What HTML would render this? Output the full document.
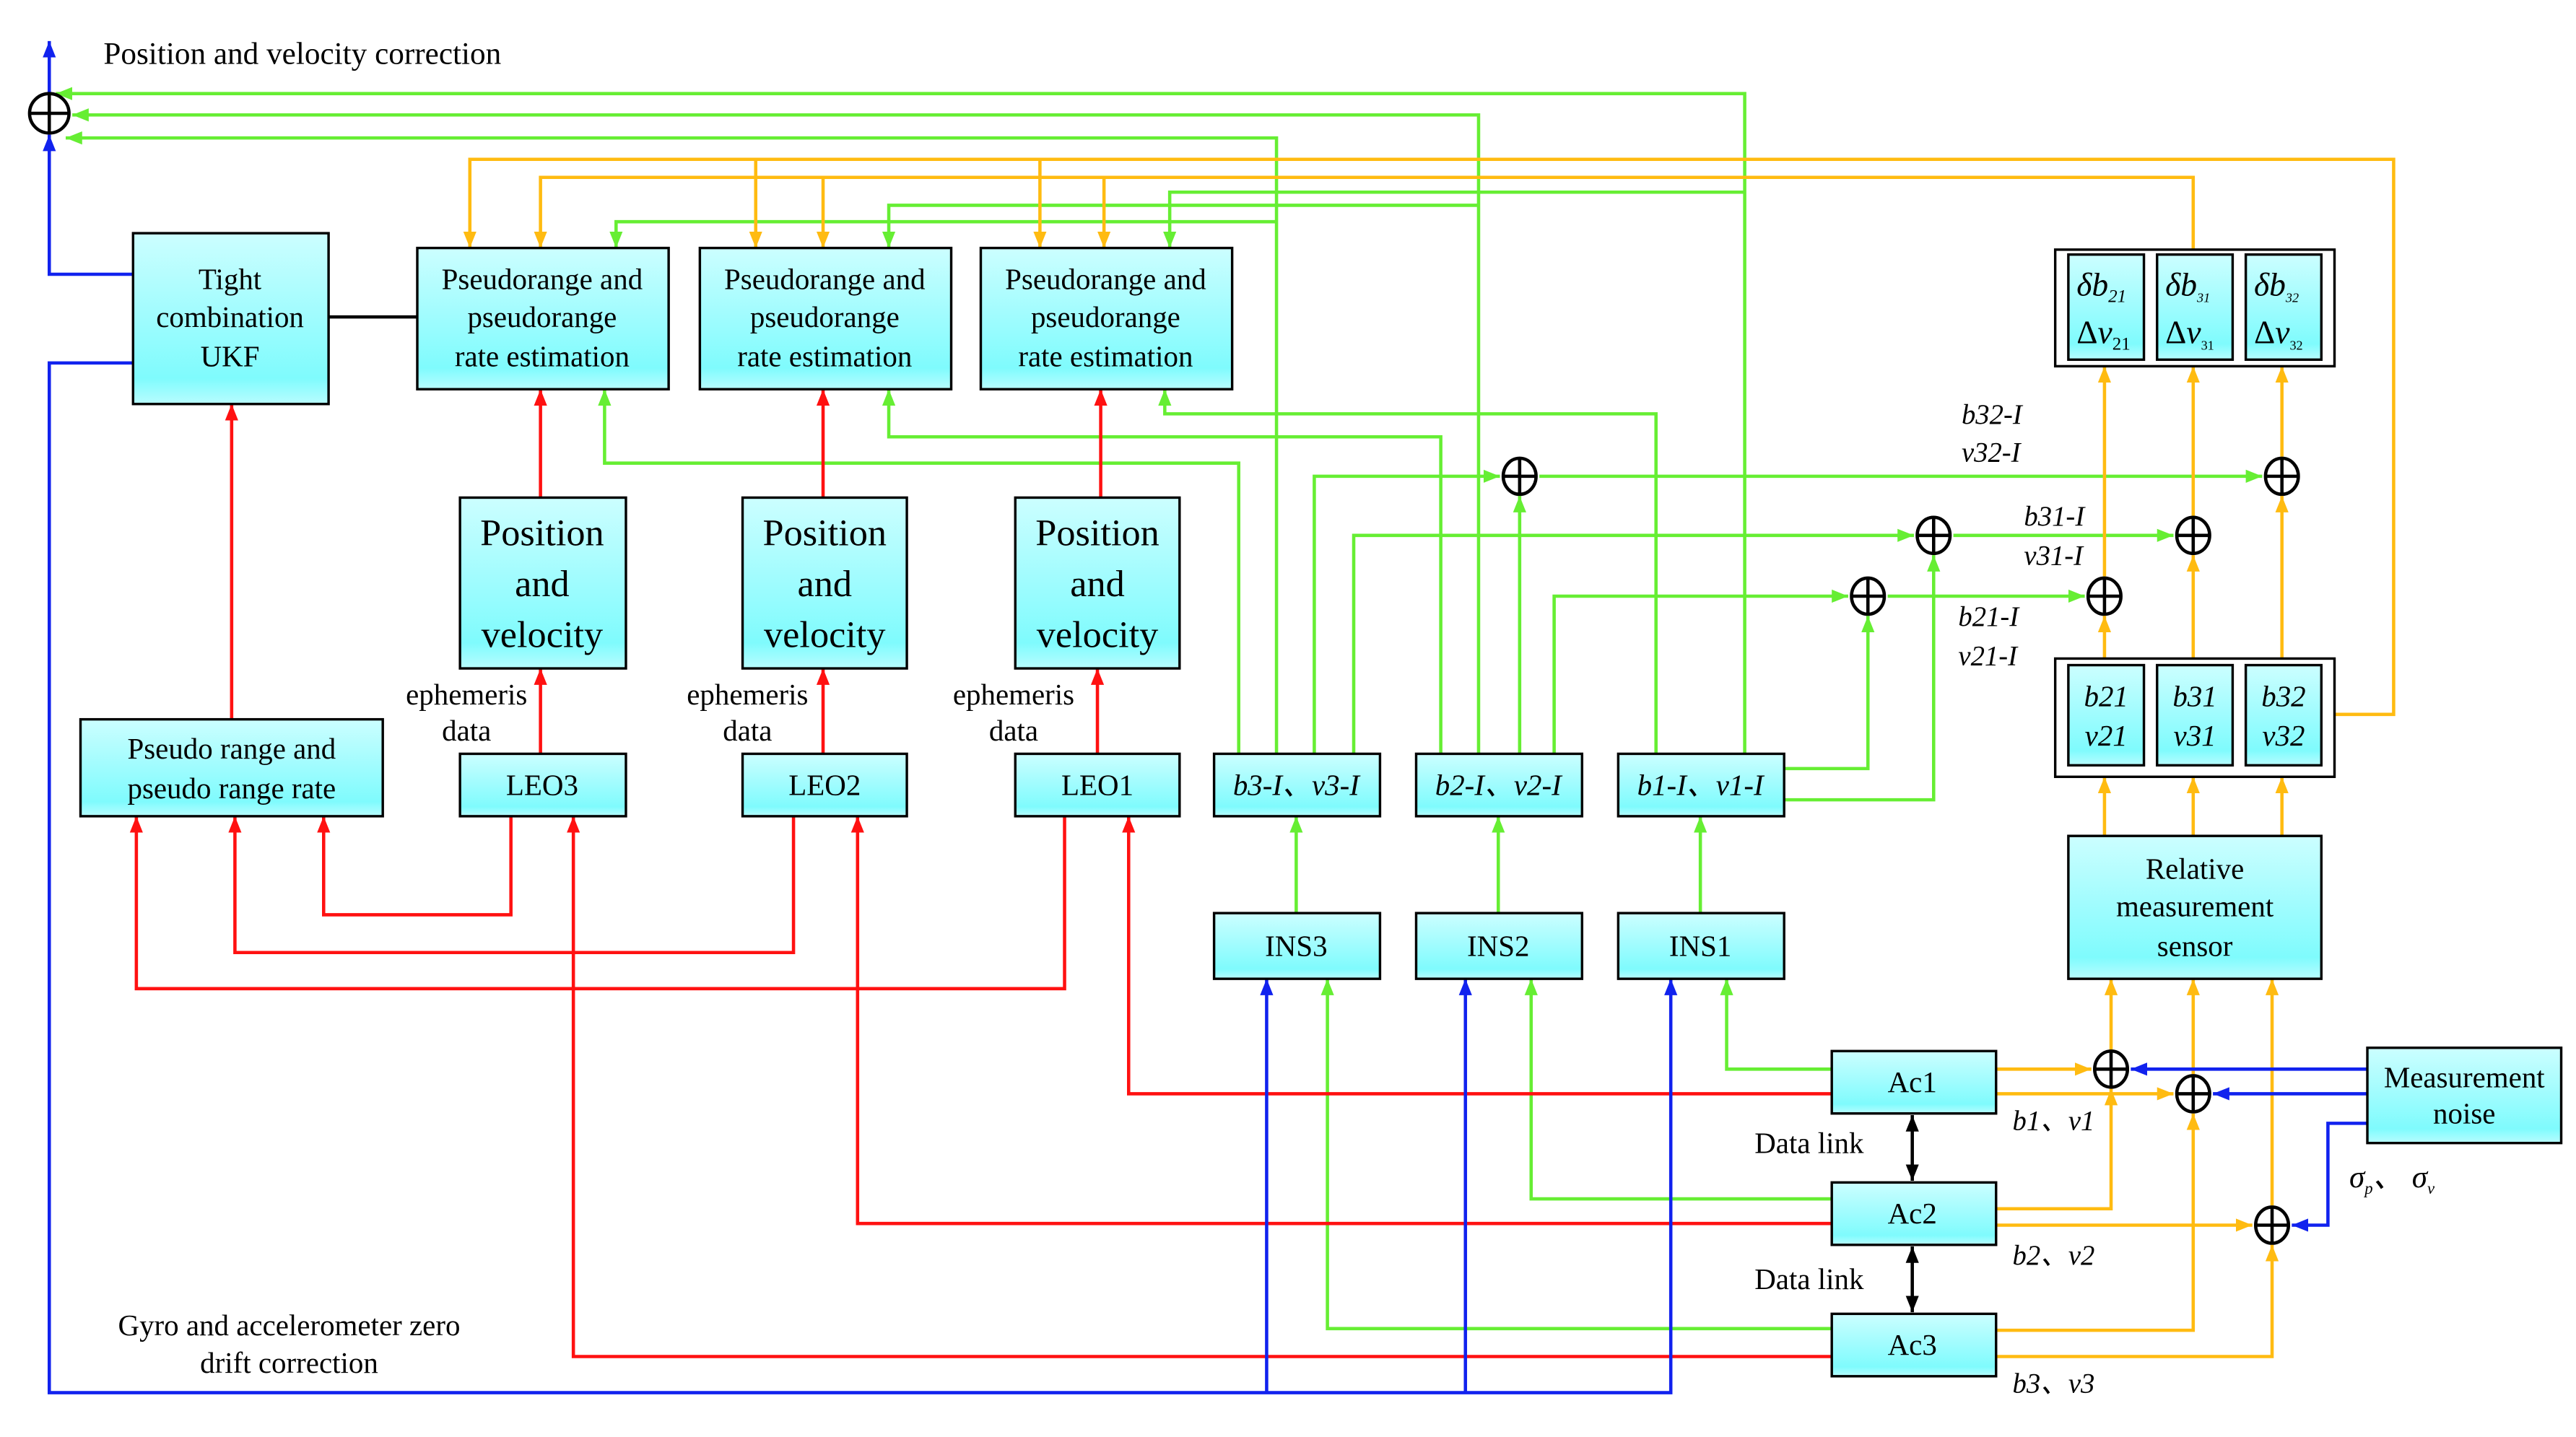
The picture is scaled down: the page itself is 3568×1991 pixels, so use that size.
<!DOCTYPE html>
<html><head><meta charset="utf-8"><style>
html,body{margin:0;padding:0;background:#fff;width:3568px;height:1991px;overflow:hidden}
svg{display:block}
text{font-family:"Liberation Serif",serif;fill:#000}
.it{font-style:italic}
</style></head><body>
<svg width="3568" height="1991" viewBox="0 0 1568 875" preserveAspectRatio="none" xmlns="http://www.w3.org/2000/svg">
<defs>
<linearGradient id="g" x1="0" y1="0" x2="0" y2="1">
<stop offset="0" stop-color="#ccfeff"/><stop offset="0.85" stop-color="#7ffbfd"/><stop offset="1" stop-color="#b8fdff"/>
</linearGradient>
<marker id="aG" markerUnits="userSpaceOnUse" markerWidth="10" markerHeight="10" refX="10" refY="5" orient="auto"><path d="M0,1 L10,5 L0,9z" fill="#66ee33"/></marker>
<marker id="aO" markerUnits="userSpaceOnUse" markerWidth="10" markerHeight="10" refX="10" refY="5" orient="auto"><path d="M0,1 L10,5 L0,9z" fill="#ffbb11"/></marker>
<marker id="aR" markerUnits="userSpaceOnUse" markerWidth="10" markerHeight="10" refX="10" refY="5" orient="auto"><path d="M0,1 L10,5 L0,9z" fill="#ff1111"/></marker>
<marker id="aB" markerUnits="userSpaceOnUse" markerWidth="10" markerHeight="10" refX="10" refY="5" orient="auto"><path d="M0,1 L10,5 L0,9z" fill="#1122ee"/></marker>
<marker id="aK" markerUnits="userSpaceOnUse" markerWidth="10" markerHeight="10" refX="10" refY="5" orient="auto"><path d="M0,1 L10,5 L0,9z" fill="#000"/></marker>
<marker id="aKs" markerUnits="userSpaceOnUse" markerWidth="10" markerHeight="10" refX="0" refY="5" orient="auto"><path d="M10,1 L0,5 L10,9z" fill="#000"/></marker>
</defs>

<g fill="none" stroke="#66ee33" stroke-width="2">
<polyline points="1062,459 1062,57 34,57" marker-end="url(#aG)"/>
<polyline points="900,459 900,70 44,70" marker-end="url(#aG)"/>
<polyline points="777,459 777,84 40,84" marker-end="url(#aG)"/>
<polyline points="1062,117 712,117 712,151" marker-end="url(#aG)"/>
<polyline points="900,125 541,125 541,151" marker-end="url(#aG)"/>
<polyline points="777,135 375,135 375,151" marker-end="url(#aG)"/>
<polyline points="754,459 754,282 368,282 368,237" marker-end="url(#aG)"/>
<polyline points="877,459 877,266 541,266 541,237" marker-end="url(#aG)"/>
<polyline points="1008,459 1008,252 709,252 709,237" marker-end="url(#aG)"/>
<polyline points="800,459 800,290 913,290" marker-end="url(#aG)"/>
<polyline points="937,290 1377,290" marker-end="url(#aG)"/>
<polyline points="824,459 824,326 1165,326" marker-end="url(#aG)"/>
<polyline points="1189,326 1323,326" marker-end="url(#aG)"/>
<polyline points="946,459 946,363 1125,363" marker-end="url(#aG)"/>
<polyline points="1149,363 1269,363" marker-end="url(#aG)"/>
<polyline points="925,459 925,302" marker-end="url(#aG)"/>
<polyline points="1086,468 1137,468 1137,375" marker-end="url(#aG)"/>
<polyline points="1086,487 1177,487 1177,338" marker-end="url(#aG)"/>
<polyline points="789,556 789,497" marker-end="url(#aG)"/>
<polyline points="912,556 912,497" marker-end="url(#aG)"/>
<polyline points="1035,556 1035,497" marker-end="url(#aG)"/>
<polyline points="1115,651 1051,651 1051,596" marker-end="url(#aG)"/>
<polyline points="1115,730 932,730 932,596" marker-end="url(#aG)"/>
<polyline points="1115,809 808,809 808,596" marker-end="url(#aG)"/>
</g>

<g fill="none" stroke="#ffbb11" stroke-width="2">
<polyline points="1421,435 1457,435 1457,97 286,97 286,151" marker-end="url(#aO)"/>
<polyline points="460,97 460,151" marker-end="url(#aO)"/>
<polyline points="633,97 633,151" marker-end="url(#aO)"/>
<polyline points="1335,152 1335,108 329,108 329,151" marker-end="url(#aO)"/>
<polyline points="501,108 501,151" marker-end="url(#aO)"/>
<polyline points="672,108 672,151" marker-end="url(#aO)"/>
<polyline points="1281,401 1281,375" marker-end="url(#aO)"/>
<polyline points="1281,351 1281,223" marker-end="url(#aO)"/>
<polyline points="1335,401 1335,338" marker-end="url(#aO)"/>
<polyline points="1335,314 1335,223" marker-end="url(#aO)"/>
<polyline points="1389,401 1389,302" marker-end="url(#aO)"/>
<polyline points="1389,278 1389,223" marker-end="url(#aO)"/>
<polyline points="1281,509 1281,473" marker-end="url(#aO)"/>
<polyline points="1335,509 1335,473" marker-end="url(#aO)"/>
<polyline points="1389,509 1389,473" marker-end="url(#aO)"/>
<polyline points="1285,639 1285,596" marker-end="url(#aO)"/>
<polyline points="1335,654 1335,596" marker-end="url(#aO)"/>
<polyline points="1383,734 1383,596" marker-end="url(#aO)"/>
<polyline points="1215,651 1273,651" marker-end="url(#aO)"/>
<polyline points="1215,666 1323,666" marker-end="url(#aO)"/>
<polyline points="1215,736 1285,736 1285,663" marker-end="url(#aO)"/>
<polyline points="1215,746 1371,746" marker-end="url(#aO)"/>
<polyline points="1215,810 1335,810 1335,678" marker-end="url(#aO)"/>
<polyline points="1215,826 1383,826 1383,758" marker-end="url(#aO)"/>
</g>

<g fill="none" stroke="#ff1111" stroke-width="2">
<polyline points="141,438 141,246" marker-end="url(#aR)"/>
<polyline points="329,303 329,237" marker-end="url(#aR)"/>
<polyline points="501,303 501,237" marker-end="url(#aR)"/>
<polyline points="670,303 670,237" marker-end="url(#aR)"/>
<polyline points="329,459 329,407" marker-end="url(#aR)"/>
<polyline points="501,459 501,407" marker-end="url(#aR)"/>
<polyline points="668,459 668,407" marker-end="url(#aR)"/>
<polyline points="311,497 311,557 197,557 197,497" marker-end="url(#aR)"/>
<polyline points="483,497 483,580 143,580 143,497" marker-end="url(#aR)"/>
<polyline points="648,497 648,602 83,602 83,497" marker-end="url(#aR)"/>
<polyline points="1115,666 687,666 687,497" marker-end="url(#aR)"/>
<polyline points="1115,745 522,745 522,497" marker-end="url(#aR)"/>
<polyline points="1115,826 349,826 349,497" marker-end="url(#aR)"/>
</g>

<g fill="none" stroke="#1122ee" stroke-width="2">
<polyline points="30,57 30,25" marker-end="url(#aB)"/>
<polyline points="81,167 30,167 30,82" marker-end="url(#aB)"/>
<polyline points="81,221 30,221 30,848 1017,848 1017,596" marker-end="url(#aB)"/>
<polyline points="771,848 771,596" marker-end="url(#aB)"/>
<polyline points="892,848 892,596" marker-end="url(#aB)"/>
<polyline points="1441,651 1297,651" marker-end="url(#aB)"/>
<polyline points="1441,666 1347,666" marker-end="url(#aB)"/>
<polyline points="1441,684 1417,684 1417,746 1395,746" marker-end="url(#aB)"/>
</g>

<g fill="none" stroke="#000" stroke-width="2">
<line x1="200" y1="193" x2="254" y2="193"/>
<line x1="1164" y1="679" x2="1164" y2="719" marker-start="url(#aKs)" marker-end="url(#aK)"/>
<line x1="1164" y1="759" x2="1164" y2="799" marker-start="url(#aKs)" marker-end="url(#aK)"/>
</g>

<g fill="url(#g)" stroke="#000" stroke-width="1.5">
<rect x="81" y="142" width="119" height="104"/>
<rect x="254" y="151" width="153" height="86"/>
<rect x="426" y="151" width="153" height="86"/>
<rect x="597" y="151" width="153" height="86"/>
<rect x="280" y="303" width="101" height="104"/>
<rect x="452" y="303" width="100" height="104"/>
<rect x="618" y="303" width="100" height="104"/>
<rect x="49" y="438" width="184" height="59"/>
<rect x="280" y="459" width="101" height="38"/>
<rect x="452" y="459" width="100" height="38"/>
<rect x="618" y="459" width="100" height="38"/>
<rect x="739" y="459" width="101" height="38"/>
<rect x="862" y="459" width="101" height="38"/>
<rect x="985" y="459" width="101" height="38"/>
<rect x="739" y="556" width="101" height="40"/>
<rect x="862" y="556" width="101" height="40"/>
<rect x="985" y="556" width="101" height="40"/>
<rect x="1259" y="509" width="154" height="87"/>
<rect x="1115" y="640" width="100" height="38"/>
<rect x="1115" y="720" width="100" height="38"/>
<rect x="1115" y="800" width="100" height="38"/>
<rect x="1441" y="638" width="118" height="58"/>
<rect x="1251" y="152" width="170" height="71" fill="#fff"/>
<rect x="1251" y="401" width="170" height="72" fill="#fff"/>
<rect x="1259" y="155" width="46" height="64"/>
<rect x="1313" y="155" width="46" height="64"/>
<rect x="1367" y="155" width="46" height="64"/>
<rect x="1259" y="405" width="46" height="61"/>
<rect x="1313" y="405" width="46" height="61"/>
<rect x="1367" y="405" width="46" height="61"/>
</g>

<g fill="#fff" stroke="#000" stroke-width="2">
<g transform="translate(30,69)"><ellipse rx="12" ry="12"/><path d="M-12,0H12M0,-12V12"/></g>
<g transform="translate(925,290)"><ellipse rx="10" ry="11"/><path d="M-10,0H10M0,-11V11"/></g>
<g transform="translate(1389,290)"><ellipse rx="10" ry="11"/><path d="M-10,0H10M0,-11V11"/></g>
<g transform="translate(1177,326)"><ellipse rx="10" ry="11"/><path d="M-10,0H10M0,-11V11"/></g>
<g transform="translate(1335,326)"><ellipse rx="10" ry="11"/><path d="M-10,0H10M0,-11V11"/></g>
<g transform="translate(1137,363)"><ellipse rx="10" ry="11"/><path d="M-10,0H10M0,-11V11"/></g>
<g transform="translate(1281,363)"><ellipse rx="10" ry="11"/><path d="M-10,0H10M0,-11V11"/></g>
<g transform="translate(1285,651)"><ellipse rx="10" ry="11"/><path d="M-10,0H10M0,-11V11"/></g>
<g transform="translate(1335,666)"><ellipse rx="10" ry="11"/><path d="M-10,0H10M0,-11V11"/></g>
<g transform="translate(1383,746)"><ellipse rx="10" ry="11"/><path d="M-10,0H10M0,-11V11"/></g>
</g>

<g font-size="18" text-anchor="middle">
<text x="140" y="176">Tight</text><text x="140" y="199">combination</text><text x="140" y="223">UKF</text>
<text x="330" y="176">Pseudorange and</text><text x="330" y="199">pseudorange</text><text x="330" y="223">rate estimation</text>
<text x="502" y="176">Pseudorange and</text><text x="502" y="199">pseudorange</text><text x="502" y="223">rate estimation</text>
<text x="673" y="176">Pseudorange and</text><text x="673" y="199">pseudorange</text><text x="673" y="223">rate estimation</text>
<g font-size="23">
<text x="330" y="332">Position</text><text x="330" y="363">and</text><text x="330" y="394">velocity</text>
<text x="502" y="332">Position</text><text x="502" y="363">and</text><text x="502" y="394">velocity</text>
<text x="668" y="332">Position</text><text x="668" y="363">and</text><text x="668" y="394">velocity</text>
</g>
<text x="141" y="462">Pseudo range and</text><text x="141" y="486">pseudo range rate</text>
<text x="330" y="484">LEO3</text><text x="502" y="484">LEO2</text><text x="668" y="484">LEO1</text>
<text x="789" y="582">INS3</text><text x="912" y="582">INS2</text><text x="1035" y="582">INS1</text>
<text x="1164" y="665">Ac1</text><text x="1164" y="745">Ac2</text><text x="1164" y="825">Ac3</text>
<text x="1336" y="535">Relative</text><text x="1336" y="558">measurement</text><text x="1336" y="582">sensor</text>
<text x="1500" y="662">Measurement</text><text x="1500" y="684">noise</text>
<text x="284" y="429">ephemeris</text><text x="284" y="451">data</text>
<text x="455" y="429">ephemeris</text><text x="455" y="451">data</text>
<text x="617" y="429">ephemeris</text><text x="617" y="451">data</text>
<text x="176" y="813">Gyro and accelerometer zero</text><text x="176" y="836">drift correction</text>
</g>
<text x="63" y="39" font-size="19">Position and velocity correction</text>
<text x="1068" y="702" font-size="18">Data link</text>
<text x="1068" y="785" font-size="18">Data link</text>
<g class="it" font-size="18" text-anchor="middle">
<text x="789" y="484" class="it">b3-I、v3-I</text>
<text x="912" y="484" class="it">b2-I、v2-I</text>
<text x="1035" y="484" class="it">b1-I、v1-I</text>
<text x="1282" y="430" class="it">b21</text><text x="1282" y="454" class="it">v21</text>
<text x="1336" y="430" class="it">b31</text><text x="1336" y="454" class="it">v31</text>
<text x="1390" y="430" class="it">b32</text><text x="1390" y="454" class="it">v32</text>
</g>
<g font-size="20">
<text x="1264" y="180" class="it">δb<tspan font-size="11" dy="4">21</tspan></text>
<text x="1264" y="209">Δ<tspan class="it">v</tspan><tspan font-size="11" dy="4">21</tspan></text>
<text x="1318" y="180" class="it">δb<tspan font-size="8" dy="4">31</tspan></text>
<text x="1318" y="209">Δ<tspan class="it">v</tspan><tspan font-size="8" dy="4">31</tspan></text>
<text x="1372" y="180" class="it">δb<tspan font-size="8" dy="4">32</tspan></text>
<text x="1372" y="209">Δ<tspan class="it">v</tspan><tspan font-size="8" dy="4">32</tspan></text>
</g>
<g class="it" font-size="17">
<text x="1194" y="258" class="it">b32-I</text><text x="1194" y="281" class="it">v32-I</text>
<text x="1232" y="320" class="it">b31-I</text><text x="1232" y="344" class="it">v31-I</text>
<text x="1192" y="381" class="it">b21-I</text><text x="1192" y="405" class="it">v21-I</text>
<text x="1225" y="688" class="it">b1、v1</text>
<text x="1225" y="770" class="it">b2、v2</text>
<text x="1225" y="848" class="it">b3、v3</text>
<text x="1430" y="723" class="it" font-size="19">σ<tspan font-size="10" dy="4">p</tspan><tspan dy="-4">、 σ</tspan><tspan font-size="10" dy="4">v</tspan></text>
</g>
</svg>
</body></html>
